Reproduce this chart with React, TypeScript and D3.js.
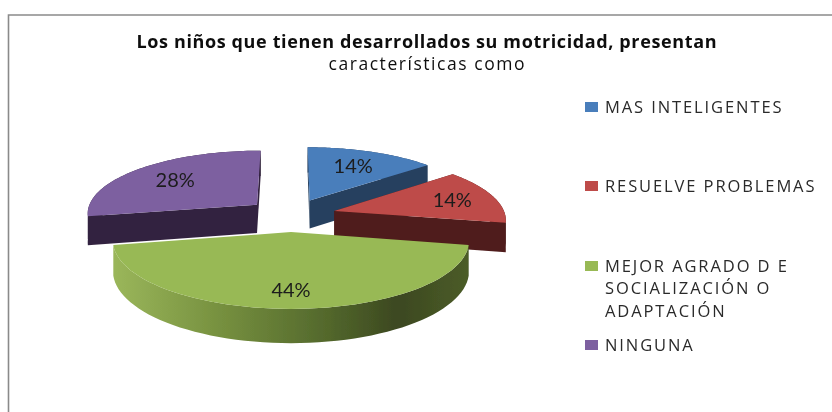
import React from "react";
import * as d3 from "d3";

const categories = ["MAS INTELIGENTES", "RESUELVE PROBLEMAS", "MEJOR AGRADO D E SOCIALIZACIÓN O ADAPTACIÓN", "NINGUNA"];
const values = [14, 14, 44, 28];
const valueLabels = ["14%", "14%", "44%", "28%"];
const labelFractions = [0.68, 0.74, 0.78, 0.68];
const topColors = ["#4a7ebb", "#be4b48", "#98b954", "#7d60a0"];
const sideColors = ["#27405f", "#4f1c1c", "#4a5a28", "#33233f"];
const legendLines = [["MAS INTELIGENTES"], ["RESUELVE PROBLEMAS"], ["MEJOR AGRADO D E", "SOCIALIZACIÓN O", "ADAPTACIÓN"], ["NINGUNA"]];
const legendY = [107, 186, 266, 345];
const titleLines = ["Los niños que tienen desarrollados su motricidad, presentan", "características como"];
const titleWidths = [580, 196];

const cx = 291, cy = 215, R = 171, explode = 45, tilt = 0.368, persp = 0.00071, depth = 29;

function project(a: number, r: number, b: number, drop = 0): [number, number] {
  const X = explode * Math.sin(b) + r * Math.sin(a);
  const Y = explode * Math.cos(b) + r * Math.cos(a);
  const f = 1 / (1 + persp * Y);
  return [cx + X * f, cy - tilt * Y * f + drop * f];
}

const line = d3.line<[number, number]>();
const samples = (a0: number, a1: number) => d3.range(0, 61).map((i) => a0 + ((a1 - a0) * i) / 60);

export default function App() {
  const arcs = d3.pie<number>().sort(null)(values);
  const order = [3, 0, 1, 2];
  return (
    <svg width={832} height={412} style={{ position: "absolute", left: 0, top: 0, background: "#fff" }}>
      <defs>
        <filter id="soft" x="-5%" y="-5%" width="110%" height="110%">
          <feGaussianBlur stdDeviation="0.6" />
        </filter>
        <linearGradient id="rim" gradientUnits="userSpaceOnUse" x1="115" x2="468" y1="0" y2="0">
          <stop offset="0" stopColor="#9ab65a" />
          <stop offset="0.3" stopColor="#76903f" />
          <stop offset="0.6" stopColor="#53682c" />
          <stop offset="0.8" stopColor="#3c4820" />
          <stop offset="1" stopColor="#4b5c28" />
        </linearGradient>
      </defs>
      <g filter="url(#soft)">
        <path d="M8.5 412V15H832" fill="none" stroke="#8a8a8a" strokeWidth={1.6} />
        <g fontFamily="'Open Sans', sans-serif" fill="#111" textAnchor="middle">
          {titleLines.map((t, i) => (
            <text key={t} x={426.5} y={48 + i * 22} fontSize={i === 0 ? 18 : 17.5} fontWeight={i === 0 ? 700 : 500} textLength={titleWidths[i]} lengthAdjust="spacing">{t}</text>
          ))}
        </g>
        {order.map((i) => {
          const d = arcs[i];
          const b = (d.startAngle + d.endAngle) / 2;
          const as = samples(d.startAngle, d.endAngle);
          const fill = i === 2 ? "url(#rim)" : sideColors[i];
          const rimTop = as.map((a) => project(a, R, b));
          const rimBottom = as.map((a) => project(a, R, b, depth)).reverse();
          const cut = (a: number): [number, number][] => [
            project(a, 0, b), project(a, R, b), project(a, R, b, depth), project(a, 0, b, depth),
          ];
          const top: [number, number][] = [project(0, 0, b), ...rimTop];
          const lab = project(b, R * labelFractions[i], b);
          return (
            <g key={categories[i]}>
              <path d={line([...rimTop, ...rimBottom]) + "Z"} fill={fill} />
              {i !== 2 && <path d={line(cut(d.startAngle)) + "Z"} fill={sideColors[i]} />}
              {i !== 2 && <path d={line(cut(d.endAngle)) + "Z"} fill={sideColors[i]} />}
              <path d={line(top) + "Z"} fill={topColors[i]} />
              <text x={lab[0]} y={lab[1]} dy="0.35em" textAnchor="middle" fontFamily="Lato, sans-serif" fontSize={20} fill="#1c1c1c">
                {valueLabels[i]}
              </text>
            </g>
          );
        })}
        {legendLines.map((ls, i) => (
          <g key={categories[i]}>
            <rect x={585} y={legendY[i] - 5} width={13} height={10} fill={topColors[i]} />
            {ls.map((t, j) => (
              <text key={t} x={605} y={legendY[i] + j * 22.5} dy="0.35em" fontFamily="'Open Sans', sans-serif" fontSize={16.5} letterSpacing={1.9} fill="#2a2a2a">
                {t}
              </text>
            ))}
          </g>
        ))}
      </g>
    </svg>
  );
}
